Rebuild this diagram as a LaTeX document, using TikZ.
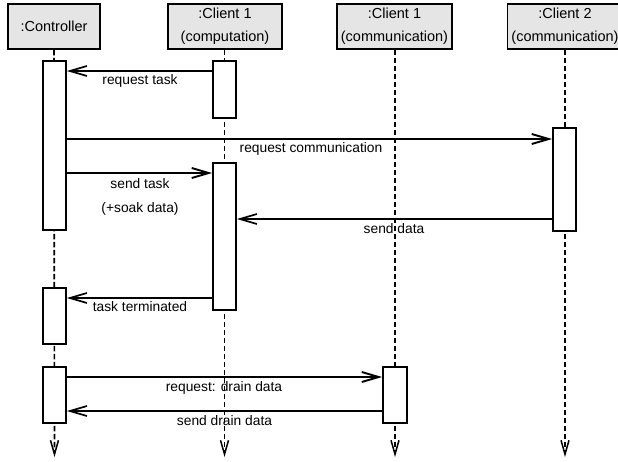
\documentclass[tikz,border=0pt]{standalone}
\usepackage{fontspec}
\setmainfont{Liberation Sans}
\usetikzlibrary{arrows.meta}
\begin{document}
\begin{tikzpicture}[x=1pt,y=-1pt,
  hdr/.style={draw, line width=1.8pt, fill=black!10, minimum height=45pt, inner sep=0pt,
    align=center, anchor=north, font=\fontsize{14.5}{23}\selectfont},
  act/.style={draw, line width=1.8pt, fill=white, minimum width=23pt, inner sep=0pt, anchor=north},
  life/.style={line width=1.7pt, dash pattern=on 5.5pt off 2.5pt,
    -{Straight Barb[length=14pt,width=8pt,line width=1.5pt]}},
  callarr/.style={line width=2.6pt, -{Straight Barb[length=17pt,width=10pt,line width=1.9pt]}},
  retarr/.style={line width=1.7pt, -{Straight Barb[length=17pt,width=10pt,line width=1.7pt]}},
  lbl/.style={font=\fontsize{13.8}{16}\selectfont, inner sep=0pt}
]
\useasboundingbox (0,0) rectangle (618,461);
\fill[white] (0,0) rectangle (618,461);

% headers
\node[hdr, minimum width=92pt] (ctrl) at (54,3) {:Controller};
\node[hdr, minimum width=114pt] (comp) at (225,3) {:Client 1\\(computation)};
\node[hdr, minimum width=115pt] (comm) at (394.5,3) {:Client 1\\(communication)};
\node[hdr, minimum width=109pt] (cl2) at (563,3) {\hspace*{4pt}:Client 2\\\hspace*{4pt}(communication)};

% labels
\node[lbl] (l1) at (140,81) {request task};
\node[lbl] (l2) at (311,149) {request communication};
\node[lbl] (l3) at (140,184) {send task};
\node[lbl] (l4) at (140,209) {(+soak data)};
\node[lbl] (l5) at (394,229) {send data};
\node[lbl] (l6) at (140,307) {task terminated};
\node[lbl] (l7) at (224,388) {request: drain data};
\node[lbl] (l8) at (224.5,421) {send drain data};

% lifelines
\coordinate (e1) at (54.5,457);
\coordinate (e2) at (224.5,457);
\coordinate (e3) at (395,457);
\coordinate (e4) at (565,457);
\draw[life] (ctrl.south) -- (e1);
\draw[life] (comp.south) ++(-0.5,0) -- (e2);
\draw[life] (comm.south) ++(0.5,0) -- (e3);
\draw[life] (cl2.south) ++(2,0) -- (e4);

% activation boxes
\node[act, minimum height=169pt] (ca1) at (54.5,60) {};
\node[act, minimum height=57pt] (pa1) at (224.5,60) {};
\node[act, minimum height=103pt] (qa1) at (564.5,127) {};
\node[act, minimum height=147pt] (pa2) at (224.5,162) {};
\node[act, minimum height=56pt] (ca2) at (54.5,287) {};
\node[act, minimum height=56pt] (ca3) at (54.5,366) {};
\node[act, minimum height=56pt, minimum width=24pt] (ma1) at (395,366) {};

% messages
\draw[retarr] (pa1.west |- 0,71) -- (ca1.east |- 0,71);
\draw[callarr] (ca1.east |- 0,139) -- (qa1.west |- 0,139);
\draw[callarr] (ca1.east |- 0,173) -- (pa2.west |- 0,173);
\draw[retarr] (qa1.west |- 0,219) -- (pa2.east |- 0,219);
\draw[retarr] (pa2.west |- 0,298) -- (ca2.east |- 0,298);
\draw[callarr] (ca3.east |- 0,377) -- (ma1.west |- 0,377);
\draw[retarr] (ma1.west |- 0,411) -- (ca3.east |- 0,411);
\end{tikzpicture}
\end{document}
